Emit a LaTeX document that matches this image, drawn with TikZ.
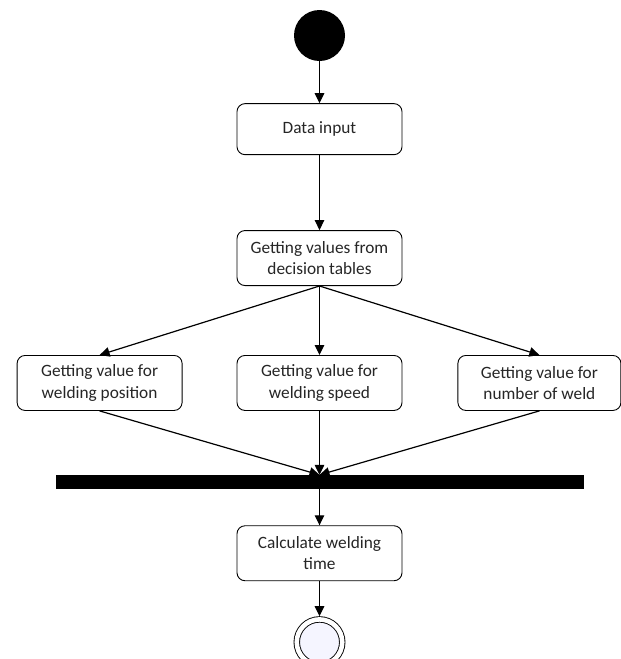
\documentclass[tikz,border=0pt]{standalone}
\usepackage{fontspec}
\setmainfont{Carlito}
\usetikzlibrary{arrows.meta,positioning}
\tikzset{
  act/.style={draw=black, rounded corners=8pt, fill=white, line width=0.9pt,
    minimum width=165pt, minimum height=55pt, align=center,
    text=black!85, font=\fontsize{17.3}{21.5}\selectfont},
  initnode/.style={circle, fill=black, minimum size=51pt, inner sep=0pt},
  finalnode/.style={circle, draw=black, line width=0.9pt, double=white,
    double distance=4.6pt, fill=blue!4, minimum size=45.5pt,
    inner sep=0pt, outer sep=3.2pt},
  forkbar/.style={rectangle, fill=black, minimum width=528pt,
    minimum height=14pt, inner sep=0pt},
  flow/.style={-{Triangle[length=10pt,width=9.5pt]}, line width=1.2pt}
}

\begin{document}
\begin{tikzpicture}
  \useasboundingbox (0pt,0pt) rectangle (621pt,-659pt);

  \node[initnode] (start) at (319.5pt,-35.5pt) {};
  \node[act, minimum height=51pt, below=42pt of start] (input) {Data input};
  \node[act, below=75pt of input] (tables) {Getting values from\\decision tables};

  \node[act, below=69pt of tables] (speed) {Getting value for\\welding speed};
  \node[act, left=54pt of speed] (posn) {Getting value for\\welding position};
  \node[act, right=55pt of speed, minimum width=163pt] (nweld) {Getting value for\\number of weld};

  \node[forkbar, below=64pt of speed] (bar) {};
  \node[act, below=36pt of bar] (calc) {Calculate welding\\time};
  \node[finalnode, below=35pt of calc] (done) {};

  \draw[flow] (start) -- (input);
  \draw[flow] (input) -- (tables);
  \foreach \n in {posn,speed,nweld}
    \draw[flow] (tables.south) -- (\n.north);
  \foreach \n in {posn,speed,nweld}
    \draw[flow] (\n.south) -- (bar.north);
  \draw[flow] (bar) -- (calc);
  \draw[flow] (calc) -- (done);
\end{tikzpicture}
\end{document}
